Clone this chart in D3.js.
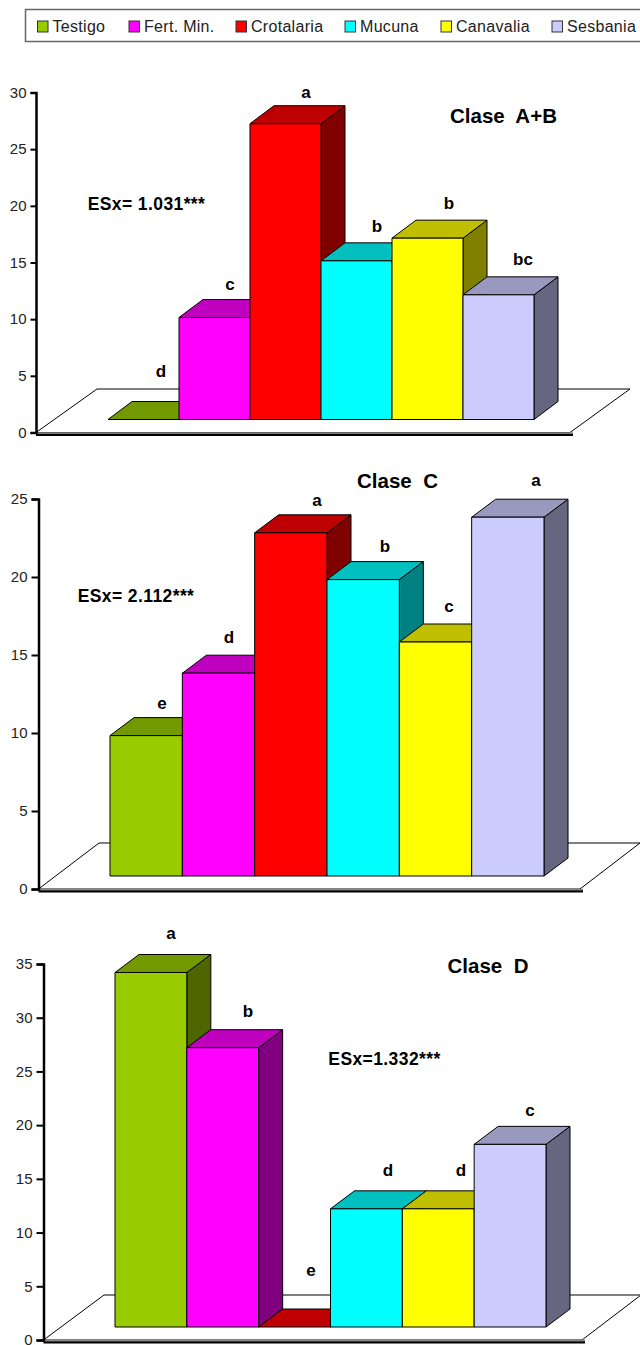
<!DOCTYPE html>
<html>
<head>
<meta charset="utf-8">
<script src="https://cdn.jsdelivr.net/npm/d3@7/dist/d3.min.js"></script>
<style>
html, body { margin: 0; padding: 0; background: #fff; }
svg { display: block; }
text { font-family: "Liberation Sans", Arial, sans-serif; }
</style>
</head>
<body>
<svg id="fig" width="640" height="1345"></svg>
<script>
// Treatments and their colours (front, top and side faces of each column)
const treatments = ["Testigo", "Fert. Min.", "Crotalaria", "Mucuna", "Canavalia", "Sesbania"];
const frontColors = ["#99cc00", "#ff00ff", "#ff0000", "#00ffff", "#ffff00", "#ccccff"];
const topColors = ["#739900", "#bf00bf", "#bf0000", "#00bfbf", "#bfbf00", "#9999bf"];
const sideColors = ["#4d6600", "#800080", "#800000", "#008080", "#808000", "#666680"];

// Values and mean-separation letters per diameter class
const valuesAB = [0, 9, 26.1, 14, 16, 11];
const lettersAB = ["d", "c", "a", "b", "b", "bc"];
const valuesC = [9, 13, 22, 19, 15, 23];
const lettersC = ["e", "d", "a", "b", "c", "a"];
const valuesD = [33, 26, 0, 11, 11, 17];
const lettersD = ["a", "b", "e", "d", "d", "c"];

const ticksAB = [0, 5, 10, 15, 20, 25, 30];
const ticksC = [0, 5, 10, 15, 20, 25];
const ticksD = [0, 5, 10, 15, 20, 25, 30, 35];

// Panel geometry
const panels = [
  { values: valuesAB, letters: lettersAB, ticks: ticksAB, title: "Clase  A+B", titleX: 503.5, titleY: 123,
    es: "ESx= 1.031***", esX: 146.5, esY: 210, axisX: 36, y0: 432.5, yTop: 92.5, tickLen: 5.5,
    barL: 108, barR: 534, floorBack: 389, floorBackL: 97, floorBackR: 630, floorFrontR: 570,
    letterXs: [161, 230, 306, 377, 449, 523], letterYs: [377, 290, 98, 232, 209, 265] },
  { values: valuesC, letters: lettersC, ticks: ticksC, title: "Clase  C", titleX: 397.5, titleY: 487.5,
    es: "ESx= 2.112***", esX: 136, esY: 602, axisX: 38.5, y0: 889, yTop: 499, tickLen: 7,
    barL: 110, barR: 544, floorBack: 843, floorBackL: 99, floorBackR: 640, floorFrontR: 580,
    letterXs: [162, 229, 317, 385, 449, 536], letterYs: [709, 643, 506, 552, 612, 486] },
  { values: valuesD, letters: lettersD, ticks: ticksD, title: "Clase  D", titleX: 488, titleY: 973,
    es: "ESx=1.332***", esX: 384.5, esY: 1065, axisX: 43.5, y0: 1340, yTop: 964, tickLen: 7,
    barL: 115, barR: 546, floorBack: 1295, floorBackL: 104, floorBackR: 641, floorFrontR: 582,
    letterXs: [171, 248, 311, 388, 461, 530], letterYs: [939, 1017, 1276, 1176, 1176, 1116] }
];

const depthX = 24;      // horizontal run of the column depth
const depthY = 18;      // vertical run of the column depth
const frontLift = 13;   // front plane of the columns above the axis baseline

const svg = d3.select("#fig");
const poly = pts => pts.map(p => p.join(",")).join(" ");

panels.forEach(p => {
  const g = svg.append("g");
  const y = d3.scaleLinear().domain([0, d3.max(p.ticks)]).range([p.y0, p.yTop]);
  const x = d3.scaleBand().domain(treatments).range([p.barL, p.barR]).padding(0);

  // Floor plane
  g.append("polygon")
    .attr("points", poly([[p.axisX, p.y0], [p.floorBackL, p.floorBack], [p.floorBackR, p.floorBack], [p.floorFrontR, p.y0]]))
    .attr("fill", "#fff").attr("stroke", "#000").attr("stroke-width", 1);

  // Front edge of the floor, with its grey highlight
  g.append("line").attr("x1", p.axisX).attr("x2", p.floorFrontR + 3)
    .attr("y1", p.y0 + 0.5).attr("y2", p.y0 + 0.5).attr("stroke", "#888").attr("stroke-width", 1.5);
  g.append("line").attr("x1", p.axisX).attr("x2", p.floorFrontR + 3)
    .attr("y1", p.y0 + 2.3).attr("y2", p.y0 + 2.3).attr("stroke", "#000").attr("stroke-width", 2.2);

  // Columns, drawn left to right so later ones overlap earlier side faces
  const base = p.y0 - frontLift;
  const bars = g.selectAll("g.col").data(treatments).join("g").attr("class", "col");
  const xL = t => x(t), xR = t => x(t) + x.bandwidth();
  const top = (t, i) => y(p.values[i]) - frontLift;

  bars.append("polygon").attr("fill", (t, i) => sideColors[i])
    .attr("points", (t, i) => poly([[xR(t), top(t, i)], [xR(t) + depthX, top(t, i) - depthY], [xR(t) + depthX, base - depthY], [xR(t), base]]));
  bars.append("polygon").attr("fill", (t, i) => topColors[i])
    .attr("points", (t, i) => poly([[xL(t), top(t, i)], [xL(t) + depthX, top(t, i) - depthY], [xR(t) + depthX, top(t, i) - depthY], [xR(t), top(t, i)]]));
  bars.append("rect").attr("fill", (t, i) => frontColors[i])
    .attr("x", xL).attr("y", top).attr("width", x.bandwidth())
    .attr("height", (t, i) => base - top(t, i));
  bars.selectAll("polygon, rect").attr("stroke", "#000").attr("stroke-width", 1).attr("stroke-linejoin", "round");

  // Value axis
  const axis = g.append("g").attr("transform", `translate(${p.axisX},0)`)
    .call(d3.axisLeft(y).tickValues(p.ticks).tickSize(p.tickLen).tickPadding(4).tickFormat(d3.format("d")));
  axis.select(".domain").attr("stroke", "#000").attr("stroke-width", 2.5);
  axis.selectAll(".tick line").attr("stroke", "#000").attr("stroke-width", 2);
  axis.selectAll(".tick text").attr("fill", "#222").style("font-size", "15px")
    .style("font-family", '"Liberation Sans", Arial, sans-serif');

  // Significance letters above the columns
  g.selectAll("text.letter").data(p.letters).join("text").attr("class", "letter")
    .attr("x", (d, i) => p.letterXs[i]).attr("y", (d, i) => p.letterYs[i])
    .attr("text-anchor", "middle").attr("font-size", 17).attr("font-weight", "bold")
    .text(d => d);

  g.append("text").attr("x", p.titleX).attr("y", p.titleY).attr("text-anchor", "middle")
    .attr("font-size", 20.5).attr("font-weight", "bold")
    .style("white-space", "pre").text(p.title);
  g.append("text").attr("x", p.esX).attr("y", p.esY).attr("text-anchor", "middle")
    .attr("font-size", 17.5).attr("font-weight", "bold").attr("letter-spacing", 0.4).text(p.es);
});

// Legend strip, running off the right edge of the page
const legendSwatchXs = [37.5, 129, 236, 345, 441, 552];
const legend = svg.append("g");
legend.append("rect").attr("x", 25.5).attr("y", 9.5).attr("width", 640).attr("height", 32)
  .attr("fill", "#fff").attr("stroke", "#666").attr("stroke-width", 1.5);
const items = legend.selectAll("g").data(treatments).join("g")
  .attr("transform", (d, i) => `translate(${legendSwatchXs[i]},0)`);
items.append("rect").attr("x", 0).attr("y", 21).attr("width", 10.5).attr("height", 11)
  .attr("fill", (d, i) => frontColors[i]).attr("stroke", "#333").attr("stroke-width", 1);
items.append("text").attr("x", 15).attr("y", 32.3).attr("font-size", 16).attr("letter-spacing", 0.3)
  .attr("fill", "#222").text(d => d);
</script>
</body>
</html>
